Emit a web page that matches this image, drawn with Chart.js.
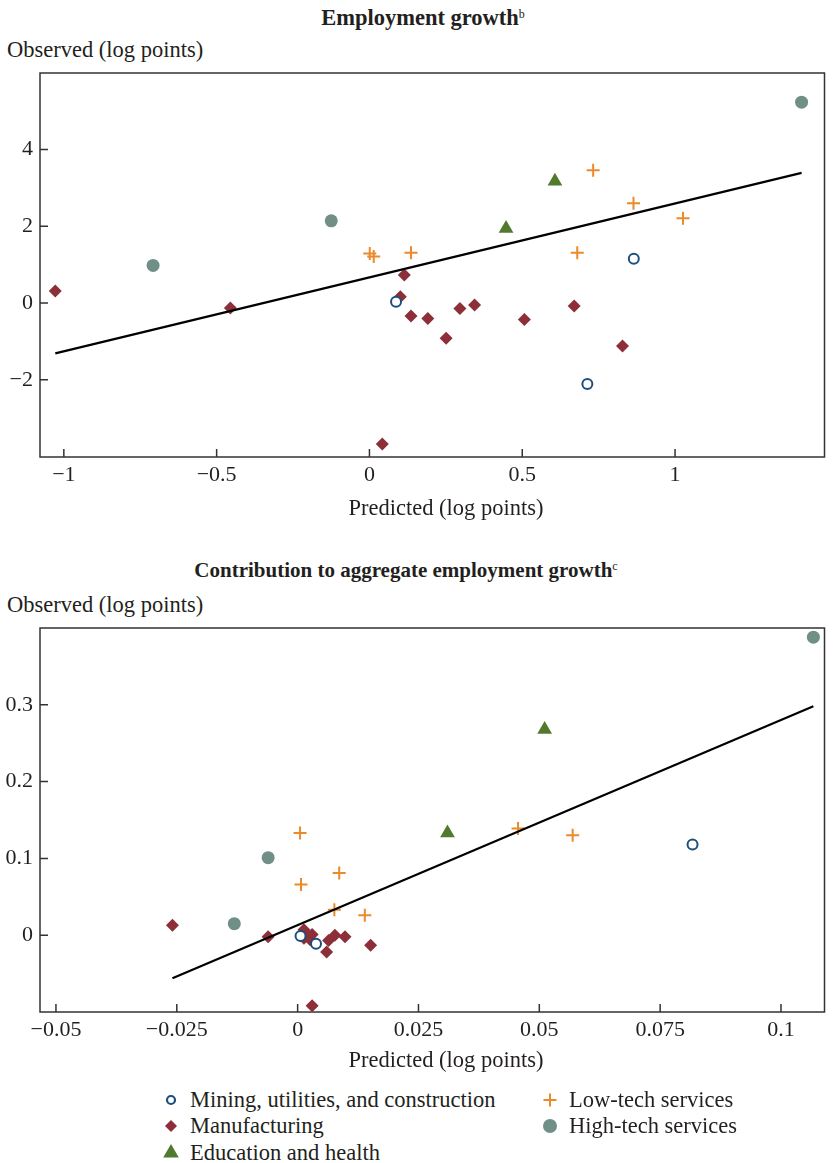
<!DOCTYPE html>
<html>
<head>
<meta charset="utf-8">
<script src="https://cdn.jsdelivr.net/npm/chart.js@4.4.0/dist/chart.umd.min.js"></script>
<style>
  body { margin: 0; background: #fff; width: 833px; height: 1163px; position: relative; overflow: hidden;
         font-family: "Liberation Serif", serif; color: #231f20; }
  .t { position: absolute; white-space: nowrap; line-height: 24px; font-size: 22.5px; }
  .title { font-weight: bold; transform: translateX(-50%); }
  .title sup { font-weight: normal; font-size: 12px; vertical-align: 7px; line-height: 0; }
  .c { transform: translateX(-50%); }
  canvas { position: absolute; left: 0; }
  .mk { position: absolute; }
</style>
</head>
<body>
<div class="t title" style="left:423px; top:6px; font-size:22.5px;">Employment growth<sup>b</sup></div>
<div class="t" style="left:7px; top:38px;">Observed (log points)</div>
<canvas id="emp" width="833" height="440" style="top:60px"></canvas>
<div class="t c" style="left:446px; top:496px;">Predicted (log points)</div>

<div class="t title" style="left:406px; top:558px; font-size:21px;">Contribution to aggregate employment growth<sup>c</sup></div>
<div class="t" style="left:7px; top:593px;">Observed (log points)</div>
<canvas id="con" width="833" height="440" style="top:615px"></canvas>
<div class="t c" style="left:446px; top:1048px;">Predicted (log points)</div>

<div id="legend"></div>

<script>
// sector groups
const sectors = ['Mining, utilities, and construction', 'Manufacturing', 'Education and health', 'Low-tech services', 'High-tech services'];

// panel 1: employment growth (predicted x, observed y)
const empMiningX = [0.087, 0.713, 0.865];
const empMiningY = [0.03, -2.11, 1.15];
const empManufX = [-1.028, -0.455, 0.042, 0.101, 0.114, 0.136, 0.191, 0.251, 0.296, 0.344, 0.507, 0.670, 0.828];
const empManufY = [0.31, -0.13, -3.67, 0.16, 0.73, -0.34, -0.40, -0.92, -0.14, -0.05, -0.43, -0.08, -1.12];
const empEduX = [0.447, 0.607];
const empEduY = [1.94, 3.17];
const empLowX = [0.001, 0.014, 0.136, 0.680, 0.732, 0.864, 1.026];
const empLowY = [1.29, 1.21, 1.31, 1.31, 3.46, 2.60, 2.21];
const empHighX = [-0.708, -0.125, 1.414];
const empHighY = [0.98, 2.14, 5.23];
const empFitX = [-1.028, 1.414];
const empFitY = [-1.31, 3.39];
const empXTicks = [-1, -0.5, 0, 0.5, 1];
const empYTicks = [-2, 0, 2, 4];

// panel 2: contribution to aggregate employment growth
const conMiningX = [0.0006, 0.0038, 0.0817];
const conMiningY = [-0.001, -0.011, 0.118];
const conManufX = [-0.0259, -0.0061, 0.0013, 0.0013, 0.0019, 0.0026, 0.0030, 0.0030, 0.0060, 0.0064, 0.0077, 0.0098, 0.0151];
const conManufY = [0.013, -0.002, 0.007, -0.004, 0.001, -0.006, 0.001, -0.092, -0.022, -0.007, 0.000, -0.002, -0.013];
const conEduX = [0.031, 0.0511];
const conEduY = [0.133, 0.268];
const conLowX = [0.0005, 0.0007, 0.0076, 0.0086, 0.0139, 0.0456, 0.0569];
const conLowY = [0.133, 0.066, 0.033, 0.081, 0.026, 0.139, 0.130];
const conHighX = [-0.0131, -0.0061, 0.1067];
const conHighY = [0.015, 0.101, 0.388];
const conFitX = [-0.0259, 0.1067];
const conFitY = [-0.056, 0.298];
const conXTicks = [-0.05, -0.025, 0, 0.025, 0.05, 0.075, 0.1];
const conYTicks = [0, 0.1, 0.2, 0.3];

const INK = '#231f20';
const styles = [
  { pointStyle: 'circle', color: '#1b4f7c', fill: '#ffffff', radius: 5, border: 2 },
  { pointStyle: 'rectRot', color: '#8c2f39', fill: '#8c2f39', radius: 6.5, border: 0 },
  { pointStyle: 'triangle', color: '#53792f', fill: '#53792f', radius: 8.5, border: 0 },
  { pointStyle: 'cross', color: '#ea8a2a', fill: '#ea8a2a', radius: 6.5, border: 2 },
  { pointStyle: 'circle', color: '#6f8f87', fill: '#6f8f87', radius: 6.5, border: 0 }
];

const pairs = (xs, ys) => xs.map((x, i) => ({ x, y: ys[i] }));
const fmt = v => String(v).replace('-', '\u2212');

// box and inward tick marks
const frame = {
  id: 'frame',
  beforeDatasetsDraw(chart) {
    const { ctx, chartArea: a, scales: { x, y } } = chart;
    ctx.save();
    ctx.strokeStyle = '#333';
    ctx.lineWidth = 1.5;
    ctx.strokeRect(a.left, a.top, a.right - a.left, a.bottom - a.top);
    ctx.beginPath();
    x.ticks.forEach(t => {
      const px = x.getPixelForValue(t.value);
      ctx.moveTo(px, a.bottom);
      ctx.lineTo(px, a.bottom - 8);
    });
    y.ticks.forEach(t => {
      const py = y.getPixelForValue(t.value);
      ctx.moveTo(a.left, py);
      ctx.lineTo(a.left + 8, py);
    });
    ctx.stroke();
    ctx.restore();
  }
};

function makePanel(id, groups, fitX, fitY, xr, yr, xTicks, yTicks) {
  const datasets = groups.map((g, i) => ({
    label: sectors[i],
    data: pairs(g[0], g[1]),
    pointStyle: styles[i].pointStyle,
    pointRadius: styles[i].radius,
    pointBackgroundColor: styles[i].fill,
    pointBorderColor: styles[i].color,
    pointBorderWidth: styles[i].border,
    showLine: false,
    clip: false
  }));
  datasets.unshift({
    label: 'fit',
    data: pairs(fitX, fitY),
    showLine: true,
    borderColor: '#000',
    borderWidth: 2.2,
    pointRadius: 0
  });
  const tickFont = { family: 'Liberation Serif', size: 22 };
  new Chart(document.getElementById(id), {
    type: 'scatter',
    data: { datasets },
    options: {
      responsive: false,
      animation: false,
      layout: { padding: { top: 13, left: 0, right: 0, bottom: 0 } },
      plugins: { legend: { display: false }, tooltip: { enabled: false } },
      scales: {
        x: {
          type: 'linear', min: xr[0], max: xr[1],
          afterBuildTicks: s => { s.ticks = xTicks.map(v => ({ value: v })); },
          afterFit: s => { s.height = 43; s.paddingLeft = 0; s.paddingRight = 0; },
          grid: { display: false, drawTicks: false },
          border: { display: false },
          ticks: { padding: 5, color: INK, font: tickFont, maxRotation: 0, callback: v => fmt(v) }
        },
        y: {
          type: 'linear', min: yr[0], max: yr[1],
          afterBuildTicks: s => { s.ticks = yTicks.map(v => ({ value: v })); },
          afterFit: s => { s.width = 40; s.paddingTop = 0; s.paddingBottom = 0; },
          grid: { display: false, drawTicks: false },
          border: { display: false },
          ticks: { padding: 7, color: INK, font: tickFont, callback: v => fmt(v) }
        }
      }
    },
    plugins: [frame]
  });
}

makePanel('emp',
  [[empMiningX, empMiningY], [empManufX, empManufY], [empEduX, empEduY], [empLowX, empLowY], [empHighX, empHighY]],
  empFitX, empFitY, [-1.078, 1.489], [-4.01, 5.99], empXTicks, empYTicks);

makePanel('con',
  [[conMiningX, conMiningY], [conManufX, conManufY], [conEduX, conEduY], [conLowX, conLowY], [conHighX, conHighY]],
  conFitX, conFitY, [-0.0533, 0.109], [-0.1, 0.4], conXTicks, conYTicks);

// legend, two columns
const legendPos = [[171, 1100], [171, 1126], [171, 1153], [550, 1100], [550, 1126]];
const legendSize = [5, 6, 9, 6.5, 7];
function glyph(s, r) {
  const c = s.color;
  if (s.pointStyle === 'circle' && s.border) return `<circle cx="10" cy="10" r="${r - 1}" fill="#fff" stroke="${c}" stroke-width="2.2"/>`;
  if (s.pointStyle === 'circle') return `<circle cx="10" cy="10" r="${r}" fill="${c}"/>`;
  if (s.pointStyle === 'rectRot') return `<polygon points="10,${10 - r} ${10 + r},10 10,${10 + r} ${10 - r},10" fill="${c}"/>`;
  if (s.pointStyle === 'triangle') return `<polygon points="10,${10 - r} ${10 + r * 0.866},${10 + r / 2} ${10 - r * 0.866},${10 + r / 2}" fill="${c}"/>`;
  return `<path d="M10 ${10 - r}V${10 + r}M${10 - r} 10H${10 + r}" stroke="${c}" stroke-width="2"/>`;
}
const leg = document.getElementById('legend');
sectors.forEach((name, i) => {
  const [cx, cy] = legendPos[i];
  leg.insertAdjacentHTML('beforeend',
    `<svg class="mk" width="20" height="20" style="left:${cx - 10}px;top:${cy - 10}px">${glyph(styles[i], legendSize[i])}</svg>` +
    `<div class="t" style="left:${cx + 19}px;top:${cy - 12}px">${name}</div>`);
});
</script>
</body>
</html>
